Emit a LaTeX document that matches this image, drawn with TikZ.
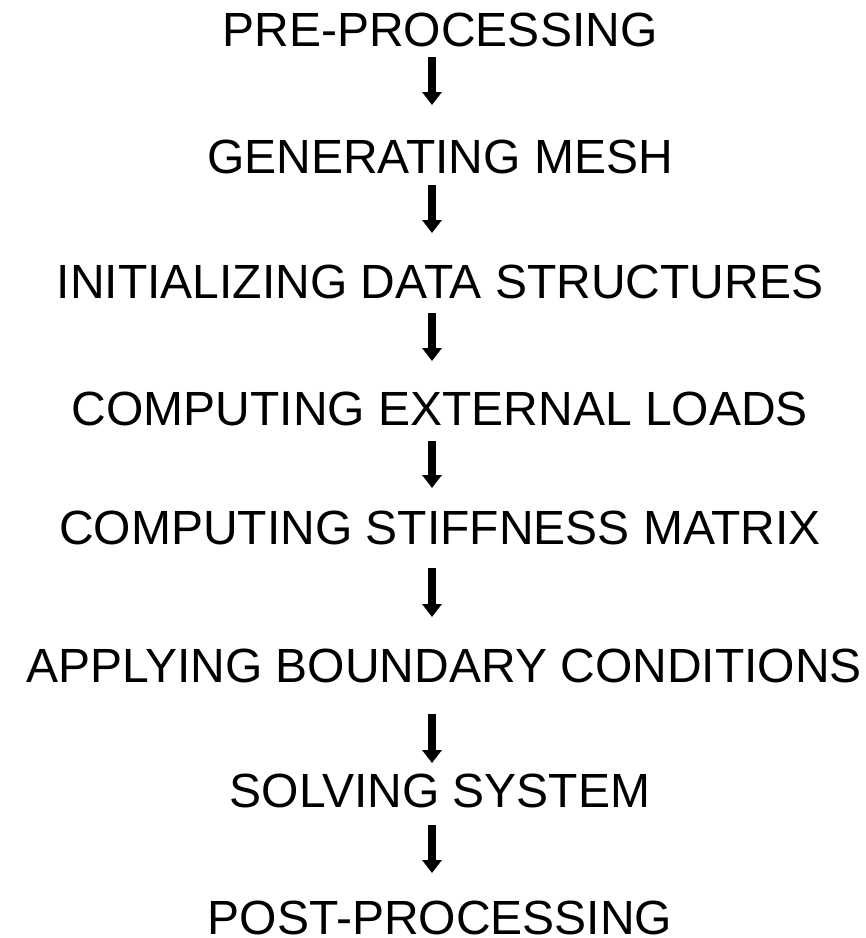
\documentclass[tikz,border=0pt]{standalone}
\usepackage{fontspec}
\setmainfont{Liberation Sans}
\usetikzlibrary{arrows.meta}
\tikzset{
  stage/.style={inner sep=0pt, outer sep=0pt, anchor=south,
    text height=34pt, text depth=0pt,
    font=\fontsize{48}{56}\selectfont},
  flow/.style={line width=8pt, -{Triangle[width=19pt,length=13pt]}}
}
\begin{document}
\begin{tikzpicture}[x=1pt, y=-1pt]
  \useasboundingbox[fill=white] (0,0) rectangle (866,938);
  \coordinate (ax) at (432,0);
  % processing stages, placed on their baselines
  \node[stage] (t1) at (440,46)  {PRE-PROCESSING};
  \node[stage] (t2) at (440,173) {GENERATING MESH};
  \node[stage] (t3) at (440,298) {INITIALIZING DATA STRUCTURES};
  \node[stage] (t4) at (440,425) {COMPUTING EXTERNAL LOADS};
  \node[stage] (t5) at (440,544) {COMPUTING STIFFNESS MATRIX};
  \node[stage] (t6) at (444,682) {APPLYING BOUNDARY CONDITIONS};
  \node[stage] (t7) at (440,807) {SOLVING SYSTEM};
  \node[stage] (t8) at (440,934) {POST-PROCESSING};
  % arrows between consecutive stages
  \draw[flow, shorten <=11pt, shorten >=34pt] (t1.south -| ax) -- (t2.north -| ax);
  \draw[flow, shorten <=12pt, shorten >=31pt] (t2.south -| ax) -- (t3.north -| ax);
  \draw[flow, shorten <=15pt, shorten >=30pt] (t3.south -| ax) -- (t4.north -| ax);
  \draw[flow, shorten <=16pt, shorten >=22pt] (t4.south -| ax) -- (t5.north -| ax);
  \draw[flow, shorten <=24pt, shorten >=31pt] (t5.south -| ax) -- (t6.north -| ax);
  \draw[flow, shorten <=32pt, shorten >=10pt] (t6.south -| ax) -- (t7.north -| ax);
  \draw[flow, shorten <=18pt, shorten >=27pt] (t7.south -| ax) -- (t8.north -| ax);
\end{tikzpicture}
\end{document}
